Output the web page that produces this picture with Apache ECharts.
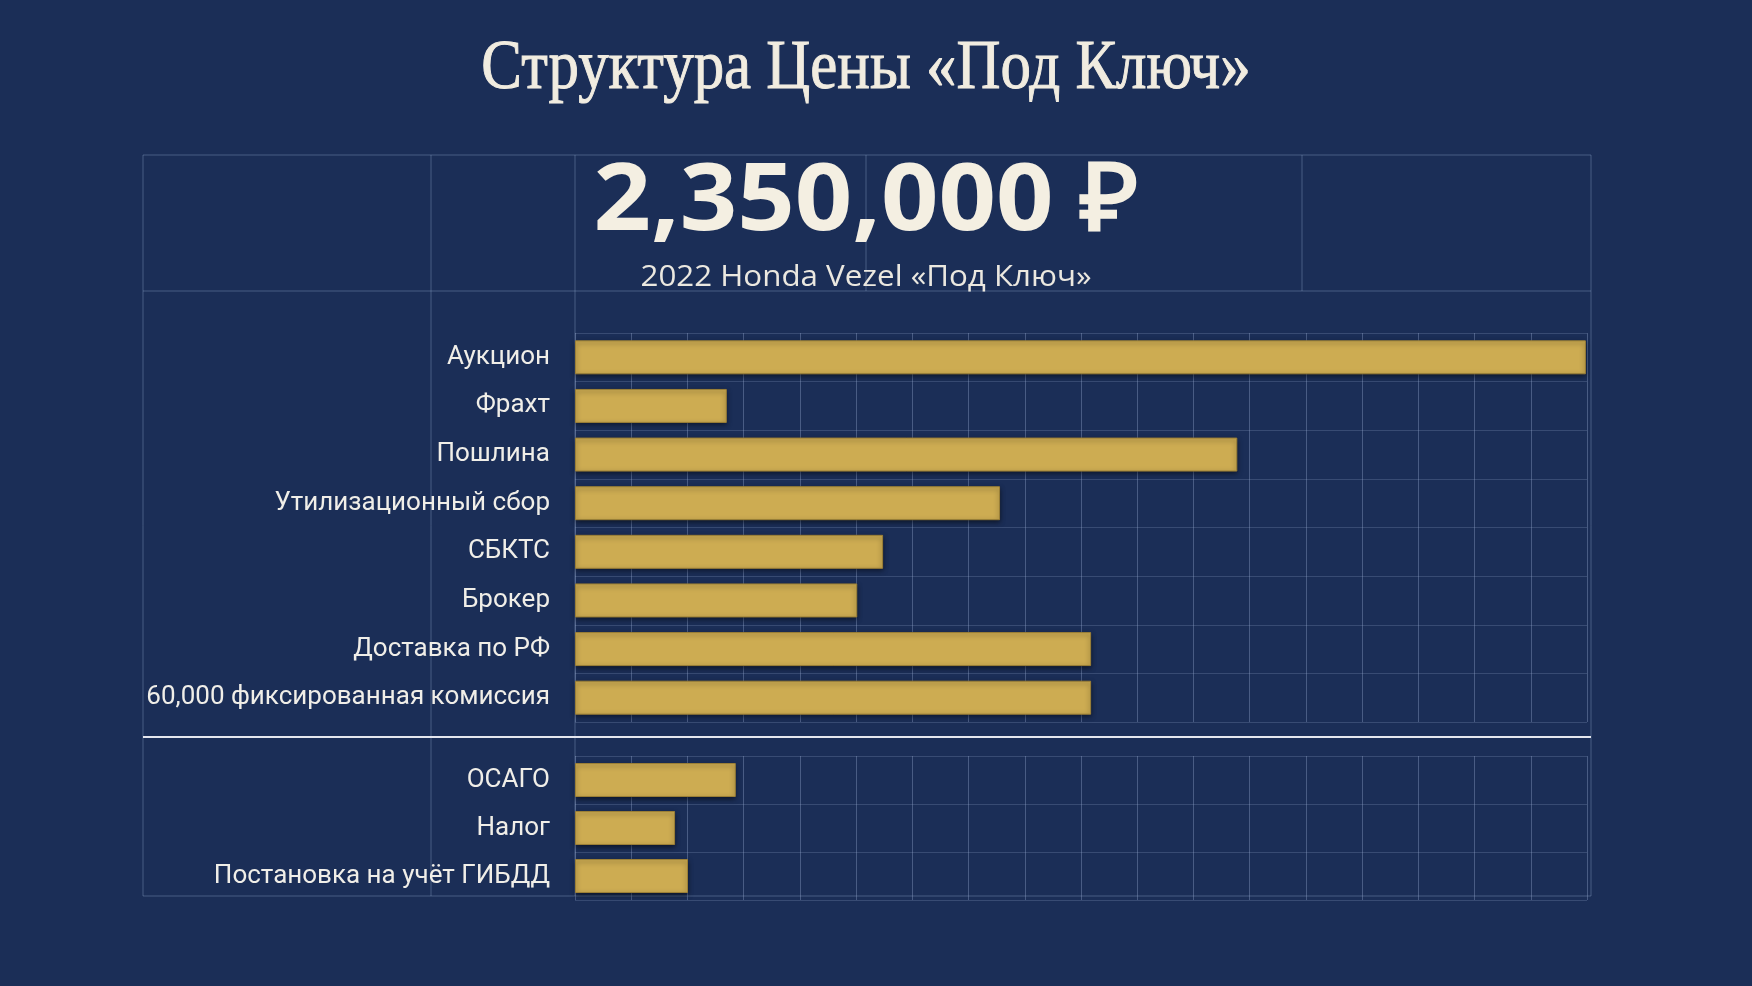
<!DOCTYPE html>
<html>
<head>
<meta charset="utf-8">
<script src="https://cdn.jsdelivr.net/npm/echarts@6/dist/echarts.min.js"></script>
<style>
  html, body { margin: 0; padding: 0; background: #1b2e57; }
  #chart { width: 1752px; height: 986px; }
</style>
</head>
<body>
<div id="chart"></div>
<script>
// основные статьи расходов (доли, в условных единицах шкалы)
const mainCategories = ['Аукцион', 'Фрахт', 'Пошлина', 'Утилизационный сбор', 'СБКТС', 'Брокер', 'Доставка по РФ', '60,000 фиксированная комиссия'];
const mainValues = [17.98, 2.70, 11.78, 7.56, 5.48, 5.02, 9.18, 9.18];

// дополнительные расходы после покупки
const extraCategories = ['ОСАГО', 'Налог', 'Постановка на учёт ГИБДД'];
const extraValues = [2.86, 1.78, 2.01];

const titleText = 'Структура Цены «Под Ключ»';
const totalText = '2,350,000 ₽';
const subText = '2022 Honda Vezel «Под Ключ»';

const gold = '#cdac52';
const gridLine = 'rgba(150,168,205,0.38)';
const rowLine = 'rgba(150,168,205,0.24)';
const labelColor = '#f0eee8';

const chart = echarts.init(document.getElementById('chart'));

function xAxisCfg(gridIndex) {
  return {
    gridIndex: gridIndex,
    type: 'value',
    min: 0,
    max: 18,
    interval: 1,
    axisLabel: { show: false },
    axisLine: { show: false },
    axisTick: { show: false },
    splitLine: { show: true, lineStyle: { color: gridLine, width: 1 } }
  };
}

function yAxisCfg(gridIndex, cats) {
  return {
    gridIndex: gridIndex,
    type: 'category',
    inverse: true,
    data: cats,
    axisLine: { show: false },
    axisTick: { show: false },
    axisLabel: {
      margin: 25,
      color: labelColor,
      fontFamily: 'Roboto',
      fontSize: 26
    },
    splitLine: { show: true, lineStyle: { color: rowLine, width: 1 } }
  };
}

const barStyle = {
  color: gold,
  borderColor: '#9b7f36',
  borderWidth: 1,
  shadowColor: 'rgba(0,0,0,0.55)',
  shadowBlur: 5,
  shadowOffsetY: 2
};

// рамка и линии-разделители (декор)
const frame = { l: 143, r: 1591, t: 155, b: 896, head: 291 };
const line = (x1, y1, x2, y2, stroke, w) => ({
  type: 'line',
  silent: true,
  shape: { x1: x1, y1: y1, x2: x2, y2: y2 },
  style: { stroke: stroke, lineWidth: w || 1 }
});

const option = {
  backgroundColor: '#1b2e57',
  animation: false,
  grid: [
    { left: 575, right: 165, top: 333, bottom: 264 },
    { left: 575, right: 165, top: 756, bottom: 86 }
  ],
  xAxis: [xAxisCfg(0), xAxisCfg(1)],
  yAxis: [yAxisCfg(0, mainCategories), yAxisCfg(1, extraCategories)],
  series: [
    {
      type: 'bar',
      xAxisIndex: 0,
      yAxisIndex: 0,
      data: mainValues,
      barWidth: 34,
      itemStyle: barStyle
    },
    {
      type: 'bar',
      xAxisIndex: 1,
      yAxisIndex: 1,
      data: extraValues,
      barWidth: 34,
      itemStyle: barStyle
    }
  ],
  graphic: [
    {
      type: 'rect',
      silent: true,
      shape: { x: frame.l, y: frame.t, width: frame.r - frame.l, height: frame.b - frame.t },
      style: { fill: 'none', stroke: gridLine, lineWidth: 1 }
    },
    line(frame.l, frame.head, frame.r, frame.head, gridLine),
    line(431, frame.t, 431, frame.b, gridLine),
    line(575, frame.t, 575, frame.b, gridLine),
    line(866, frame.t, 866, frame.head, gridLine),
    line(1302, frame.t, 1302, frame.head, gridLine),
    line(frame.l, 737, frame.r, 737, '#e4e6ee', 2),
    {
      type: 'text',
      x: 866,
      y: 70,
      scaleX: 0.87,
      style: {
        text: titleText,
        textAlign: 'center',
        textVerticalAlign: 'middle',
        fill: '#f1ece0',
        stroke: '#f1ece0',
        lineWidth: 1,
        font: 'normal 70px "Liberation Serif"',
        shadowColor: 'rgba(0,0,0,0.5)',
        shadowBlur: 4,
        shadowOffsetY: 2
      }
    },
    {
      type: 'text',
      x: 866,
      y: 203,
      scaleX: 1.07,
      style: {
        text: totalText,
        textAlign: 'center',
        textVerticalAlign: 'middle',
        fill: '#f4efe2',
        font: 'bold 94px "Open Sans"',
        shadowColor: 'rgba(0,0,0,0.5)',
        shadowBlur: 6,
        shadowOffsetY: 3
      }
    },
    {
      type: 'text',
      x: 866,
      y: 278,
      scaleX: 1.08,
      style: {
        text: subText,
        textAlign: 'center',
        textVerticalAlign: 'middle',
        fill: '#ebe8e0',
        font: 'normal 29px "Open Sans"'
      }
    }
  ]
};

chart.setOption(option);
</script>
</body>
</html>
